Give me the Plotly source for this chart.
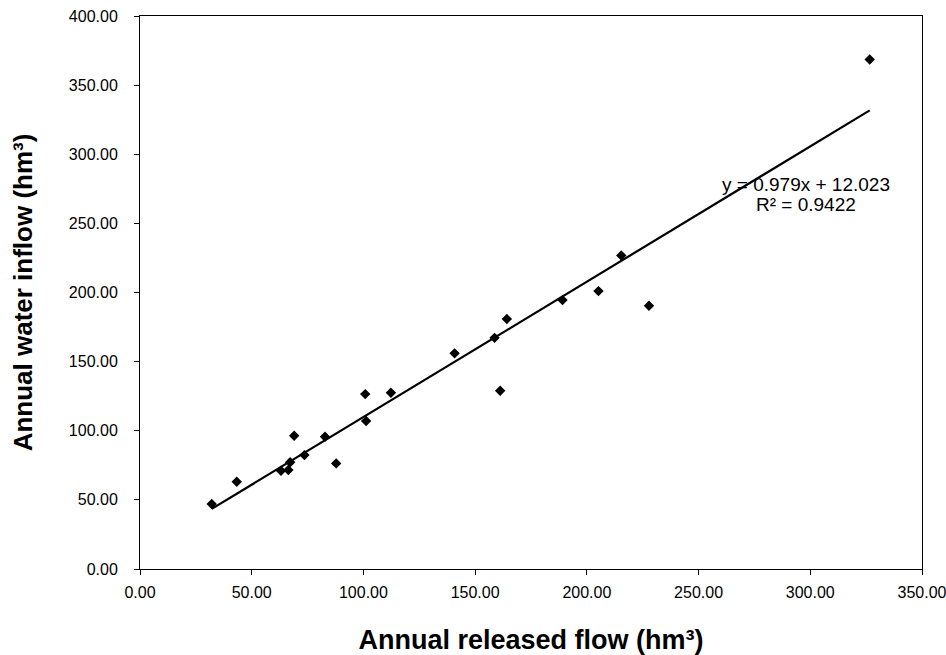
import plotly.graph_objects as go

released = [32.1, 43.3, 63.1, 66.4, 67.2, 69.0, 73.6, 82.8, 87.8, 101.2, 100.8,
            112.3, 140.8, 161.2, 158.7, 164.2, 189.1, 205.2, 215.4, 227.8, 326.6]
inflow = [47.0, 63.1, 71.1, 71.6, 77.2, 96.4, 82.4, 95.7, 76.4, 107.0, 126.5,
          127.5, 156.0, 128.9, 167.2, 180.8, 194.5, 201.0, 226.8, 190.4, 368.5]

slope = 0.979
intercept = 12.023
r2 = 0.9422

x_ticks = [0, 50, 100, 150, 200, 250, 300, 350]
y_ticks = [0, 50, 100, 150, 200, 250, 300, 350, 400]

x_line = [min(released), max(released)]
y_line = [slope * v + intercept for v in x_line]

fig = go.Figure()
fig.add_trace(go.Scatter(x=x_line, y=y_line, mode="lines",
                         line=dict(color="black", width=2.2), showlegend=False,
                         hoverinfo="skip"))
fig.add_trace(go.Scatter(x=released, y=inflow, mode="markers",
                         marker=dict(symbol="diamond", size=8, color="black"),
                         showlegend=False))

font = "Liberation Sans, Arial, sans-serif"
fig.update_layout(
    width=946, height=655,
    margin=dict(l=140, r=24, t=16, b=86),
    plot_bgcolor="white", paper_bgcolor="white",
    font=dict(family=font, color="black", size=16),
    xaxis=dict(range=[0, 350], tickvals=x_ticks, tickformat=".2f",
               automargin=False, ticklabeloverflow="allow",
               showgrid=False, zeroline=False, showline=True, linecolor="black",
               linewidth=1, mirror=True, ticks="outside", ticklen=5,
               tickcolor="black", tickfont=dict(size=16), ticklabelstandoff=4,
               title=dict(text="<b>Annual released flow (hm³)</b>",
                          font=dict(size=27), standoff=42)),
    yaxis=dict(range=[0, 400], tickvals=y_ticks, tickformat=".2f",
               automargin=False, ticklabeloverflow="allow",
               showgrid=False, zeroline=False, showline=True, linecolor="black",
               linewidth=1, mirror=True, ticks="outside", ticklen=5,
               tickcolor="black", tickfont=dict(size=16), ticklabelstandoff=13,
               title=dict(text="<b>Annual water inflow (hm³)</b>",
                          font=dict(size=26), standoff=28)),
    annotations=[
        dict(xref="paper", yref="paper", x=0.8516, y=0.6944,
             text=f"y = {slope}x + {intercept}",
             showarrow=False, font=dict(size=19, color="black"),
             xanchor="center", yanchor="middle"),
        dict(xref="paper", yref="paper", x=0.8516, y=0.660,
             text=f"R² = {r2}",
             showarrow=False, font=dict(size=19, color="black"),
             xanchor="center", yanchor="middle"),
    ],
)

fig.write_html("out.html", config={"displayModeBar": False},
               post_script="document.body.style.margin='0';document.body.style.overflow='hidden';")
